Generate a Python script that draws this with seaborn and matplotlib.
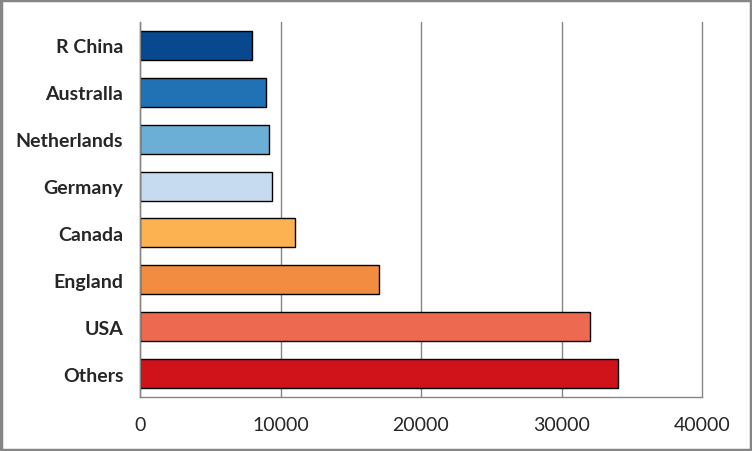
import matplotlib
matplotlib.use("Agg")
import matplotlib.pyplot as plt
import seaborn as sns
import pandas as pd
import numpy as np
from matplotlib.patches import Rectangle

countries = ["R China", "Australla", "Netherlands", "Germany", "Canada", "England", "USA", "Others"]
values = [8000, 9000, 9200, 9400, 11000, 17000, 32000, 34000]
colors = ["#08488e", "#2171b5", "#6baed6", "#c6dbef", "#fdb252", "#f28c40", "#ed6a50", "#d0121b"]
xticks = [0, 10000, 20000, 30000, 40000]

sns.set_style("white")
plt.rcParams['font.family'] = ['Lato', 'DejaVu Sans']

fig = plt.figure(figsize=(7.52, 4.52), dpi=100)
ax = fig.add_axes([140/752, 1-398/452, (702-140)/752, (398-23)/452])

df = pd.DataFrame({"country": countries, "value": values})
sns.barplot(data=df, x="value", y="country", hue="country", palette=colors,
            orient="h", width=0.62, edgecolor="black", linewidth=1.0,
            legend=False, ax=ax, saturation=1)

ax.set_xlim(0, 40000)
ax.set_ylim(len(countries) - 0.5, -0.5)
ax.set_xticks(xticks)
ax.set_xticklabels([str(t) for t in xticks], fontsize=14)
ax.set_xlabel("")
ax.set_ylabel("")
for lab in ax.get_yticklabels():
    lab.set_fontweight("bold")
    lab.set_fontsize(14)

ax.grid(axis="x", color="#868686", linewidth=1.0)
for gl in ax.get_xgridlines():
    gl.set_clip_on(False)
ax.set_axisbelow(True)
for s in ["top", "right"]:
    ax.spines[s].set_visible(False)
for s in ["left", "bottom"]:
    ax.spines[s].set_color("#868686")
    ax.spines[s].set_linewidth(1.0)

ax.tick_params(axis="y", which="major", length=0, pad=18)
ax.set_yticks(np.arange(-0.5, len(countries) + 0.5, 1), minor=True)
ax.tick_params(axis="y", which="minor", length=6, color="#868686", direction="out")
ax.tick_params(axis="x", which="major", length=6, color="#868686", direction="out", pad=8)
ax.tick_params(axis="y", which="major", pad=12)

fig.patches.append(Rectangle((0.0015, 0.0025), 0.997, 0.995, transform=fig.transFigure,
                             fill=False, edgecolor="#868686", linewidth=2.5))

fig.savefig("out.png", dpi=100)
